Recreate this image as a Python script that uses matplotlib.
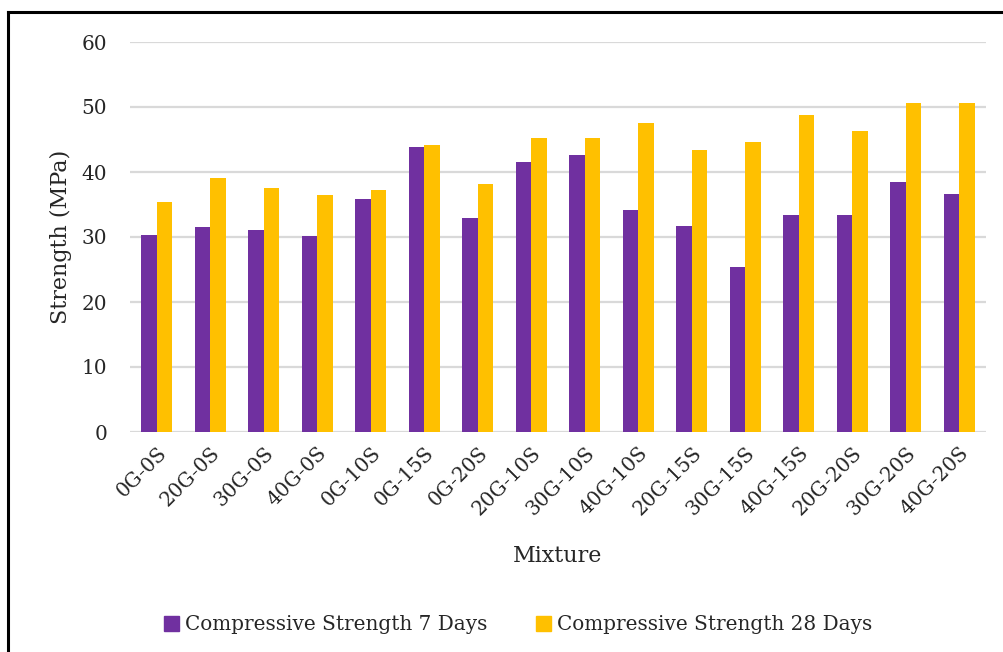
import numpy as np
import matplotlib.pyplot as plt
from matplotlib.lines import Line2D
from matplotlib.patches import Patch

#Data#
mixtures=['0G-0S','20G-0S','30G-0S','40G-0S','0G-10S','0G-15S','0G-20S','20G-10S',
          '30G-10S','40G-10S','20G-15S','30G-15S','40G-15S','20G-20S','30G-20S','40G-20S']
days7=[30.3,31.5,31.1,30.1,35.8,43.8,32.9,41.6,42.6,34.2,31.7,25.4,33.4,33.4,38.5,36.6]
days28=[35.4,39.1,37.5,36.4,37.3,44.2,38.1,45.2,45.2,47.5,43.4,44.6,48.7,46.3,50.6,50.6]
yticks=[0,10,20,30,40,50,60]
#/Data#

purple='#7030A0';yellow='#FFC000';txt='#262626'
plt.rcParams['font.family']=['DejaVu Serif']

W,H=1004,652
fig=plt.figure(figsize=(W/100,H/100),dpi=100)
ax=fig.add_axes([130/W,1-432/H,856/W,390/H])

x=np.arange(len(mixtures));bw=0.29
ax.bar(x-bw/2,days7,bw,color=purple,label='Compressive Strength 7 Days',zorder=3)
ax.bar(x+bw/2,days28,bw,color=yellow,label='Compressive Strength 28 Days',zorder=3)

ax.set_xlim(-0.5,len(mixtures)-0.5);ax.set_ylim(0,60)
ax.set_yticks(yticks)
ax.yaxis.grid(True,color='#d9d9d9',lw=1.6,zorder=0)
for s in ax.spines.values():s.set_visible(False)
ax.tick_params(axis='both',length=0,labelsize=14.4,colors=txt)
ax.tick_params(axis='y',pad=16.5)
ax.set_xticks(x)
ax.set_xticklabels(mixtures,rotation=45,ha='right',va='top',rotation_mode='anchor')
ax.tick_params(axis='x',pad=8)
ax.set_xlabel('Mixture',fontsize=16,color=txt,labelpad=19)
ax.set_ylabel('Strength (MPa)',fontsize=16,color=txt,labelpad=7)

leg=fig.legend(handles=[Patch(color=purple,label='Compressive Strength 7 Days'),
                        Patch(color=yellow,label='Compressive Strength 28 Days')],
               loc='center',bbox_to_anchor=(518/W,1-625/H),ncol=2,frameon=False,
               fontsize=14.4,handlelength=0.75,handleheight=0.75,handletextpad=0.3,columnspacing=2.4,labelcolor=txt)

#Frame#
fig.add_artist(Line2D([8/W,8/W],[0,1-12/H],color='black',lw=2.2,transform=fig.transFigure))
fig.add_artist(Line2D([8/W,1],[1-12/H,1-12/H],color='black',lw=2.2,transform=fig.transFigure))

fig.savefig('out.png',dpi=100)
